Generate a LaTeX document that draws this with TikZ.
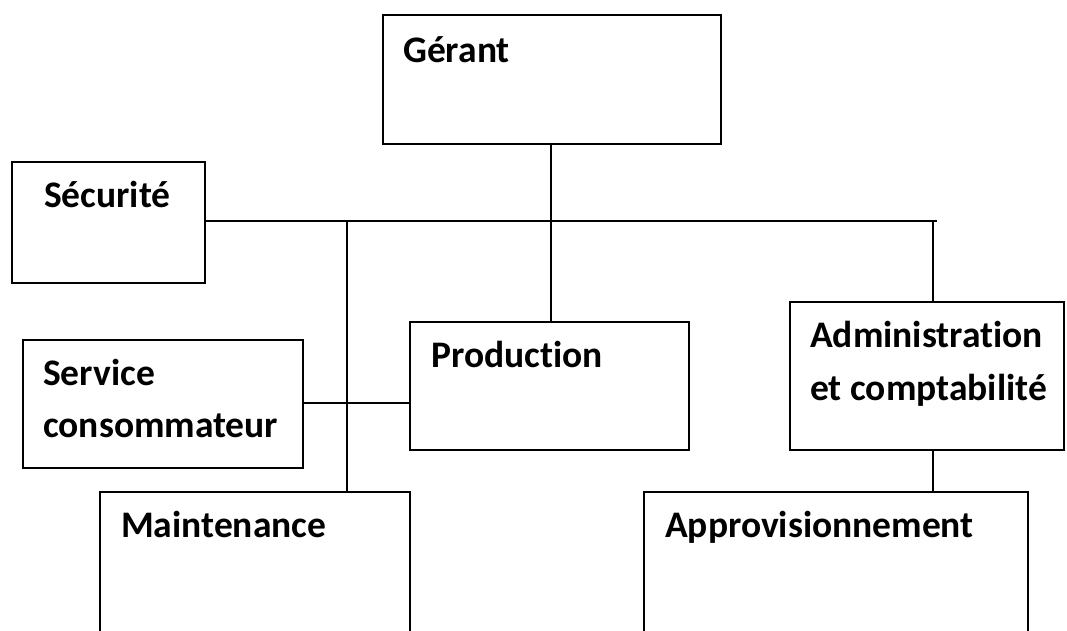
\documentclass[tikz,border=0pt]{standalone}
\usepackage{fontspec}
\setmainfont[Ligatures=NoCommon]{Carlito}
\begin{document}
\begin{tikzpicture}[x=1pt,y=-1pt,
  box/.style={draw=black,line width=1.8pt,inner sep=0pt,anchor=north west},
  lbl/.style={anchor=base west,inner sep=0pt,font=\fontsize{37.5}{37.5}\selectfont\bfseries},
  conn/.style={draw=black,line width=1.8pt}]
\useasboundingbox (0,0) rectangle (1067,630);
\clip (0,0) rectangle (1067,630);
\node[box,minimum width=338pt,minimum height=129pt] (ger) at (382,14) {};
\node[box,minimum width=193pt,minimum height=121pt] (sec) at (11,161) {};
\node[box,minimum width=280pt,minimum height=128pt] (serv) at (22,339) {};
\node[box,minimum width=279pt,minimum height=128pt] (prod) at (409,321) {};
\node[box,minimum width=274pt,minimum height=148pt] (adm) at (789,301) {};
\node[box,minimum width=310pt,minimum height=170pt] (maint) at (99,491) {};
\node[box,minimum width=384pt,minimum height=170pt] (appro) at (643,491) {};
\node[lbl] (tger) at (403,62) {Gérant};
\node[lbl] (tsec) at (44,207) {Sécurité};
\node[lbl] (tserv1) at (43,385) {Service};
\node[lbl] (tserv2) at (43,437) {consommateur};
\node[lbl] (tprod) at (431,367) {Production};
\node[lbl] (tadm1) at (810,347) {Administration};
\node[lbl] (tadm2) at (810,400) {et comptabilité};
\node[lbl] (tmaint) at (121,537) {Maintenance};
\node[lbl] (tappro) at (665,537) {Approvisionnement};
\coordinate (hend) at (937,221);
\coordinate (j1) at (347,221);
\coordinate (j2) at (551,221);
\coordinate (j3) at (933,221);
\draw[conn] (sec.east |- hend) -- (hend);
\draw[conn] (ger.south -| j2) -- (j2 |- prod.north);
\draw[conn] (j1) -- (j1 |- maint.north);
\draw[conn] (j3) -- (j3 |- adm.north);
\draw[conn] (j3 |- adm.south) -- (j3 |- appro.north);
\coordinate (sc) at (302,403);
\draw[conn] (serv.east |- sc) -- (prod.west |- sc);
\end{tikzpicture}
\end{document}
